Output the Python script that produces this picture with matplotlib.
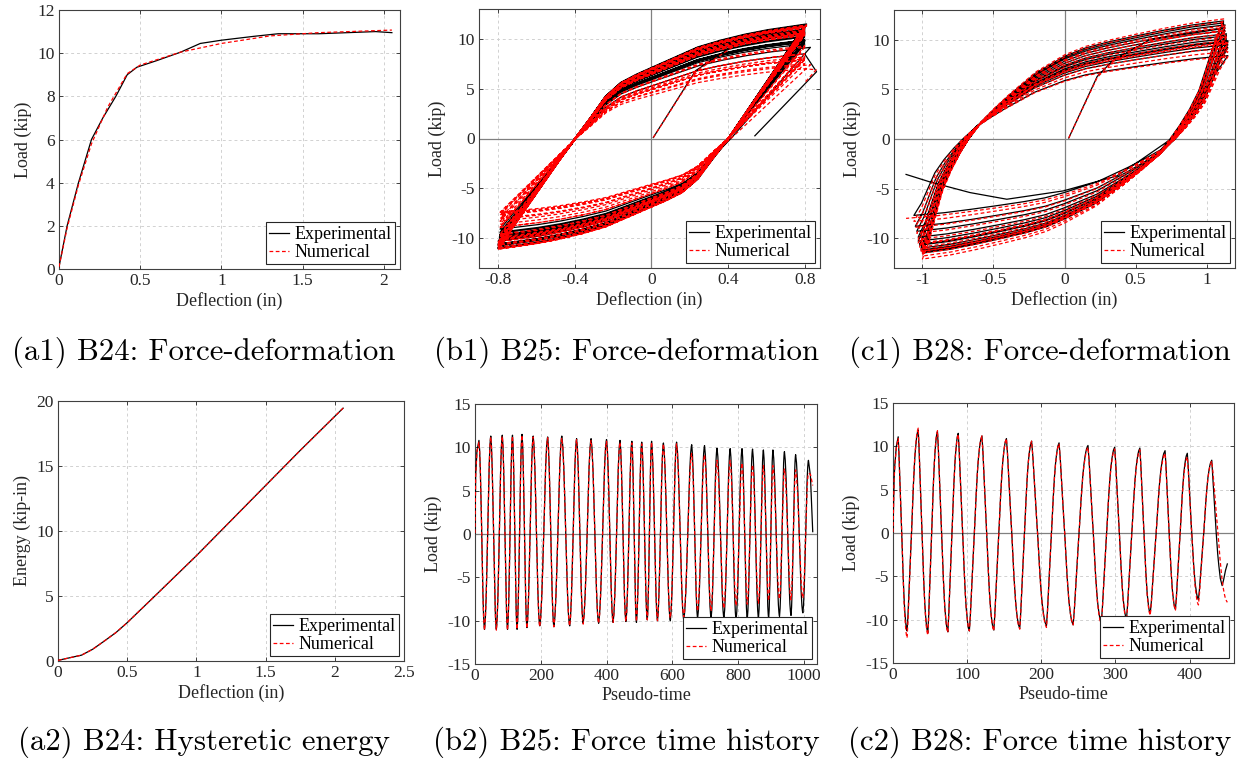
import numpy as np
import matplotlib
matplotlib.use('Agg')
import matplotlib.pyplot as plt
from matplotlib.ticker import FuncFormatter

plt.rcParams['font.family'] = ['Liberation Serif', 'DejaVu Serif']
plt.rcParams['axes.unicode_minus'] = False

# ---- B24 monotonic test ----
a1_exp_d = [0.0, 0.05, 0.12, 0.2, 0.27, 0.35, 0.42, 0.48, 0.6, 0.75, 0.87, 1.0, 1.2, 1.35, 1.6, 1.95, 2.05]
a1_exp_F = [0.1, 2.0, 4.0, 6.0, 7.0, 8.0, 9.0, 9.35, 9.65, 10.05, 10.45, 10.6, 10.78, 10.9, 10.9, 11.0, 10.95]
a1_num_d = [0.0, 0.05, 0.12, 0.2, 0.3, 0.42, 0.5, 0.75, 1.0, 1.3, 1.6, 2.05]
a1_num_F = [0.1, 1.9, 3.9, 5.8, 7.5, 9.05, 9.45, 10.05, 10.45, 10.8, 10.95, 11.07]

a2_d = [0.0, 0.17, 0.25, 0.33, 0.42, 0.5, 0.7, 1.0, 1.25, 1.5, 1.75, 2.06]
a2_exp_E = [0.05, 0.45, 0.9, 1.5, 2.2, 2.95, 5.0, 8.1, 10.8, 13.5, 16.2, 19.45]
a2_num_E = [0.05, 0.45, 0.9, 1.5, 2.2, 2.95, 5.0, 8.1, 10.8, 13.5, 16.2, 19.45]

# ---- B25 cyclic test: peaks / troughs of each cycle ----
b_peak_t = [12, 48, 83, 114, 143, 177, 221, 264, 309, 353, 400, 441, 477, 507,
            537, 573, 613, 659, 698, 736, 776, 812, 844, 877, 906, 941, 975, 1014]
b_peak_d = [0.80, 0.80, 0.80, 0.81, 0.81, 0.80, 0.80, 0.80, 0.80, 0.80, 0.80, 0.80, 0.80, 0.80,
            0.80, 0.80, 0.80, 0.80, 0.80, 0.80, 0.80, 0.80, 0.80, 0.80, 0.80, 0.80, 0.83, 0.80]
b_peak_exp = [10.8, 11.3, 11.4, 11.4, 11.5, 11.3, 11.2, 11.3, 11.0, 11.0, 10.9, 10.8, 10.7, 10.6,
              10.7, 10.5, 10.6, 10.3, 10.2, 9.9, 9.85, 9.85, 9.8, 9.7, 9.7, 9.5, 9.15, 8.5]
b_peak_num = [10.6, 11.2, 11.3, 11.3, 11.4, 11.2, 11.1, 11.1, 10.9, 10.8, 10.7, 10.6, 10.5, 10.4,
              10.6, 10.4, 10.4, 9.3, 9.15, 8.5, 8.5, 8.2, 8.0, 7.9, 7.9, 7.5, 7.4, 7.0]
b_trough_t = [29, 65, 99, 128, 158, 197, 240, 288, 329, 376, 420, 459, 491, 524,
              555, 594, 635, 677, 718, 757, 794, 828, 862, 893, 926, 961, 997]
b_trough_d = [-0.80, -0.80, -0.80, -0.80, -0.80, -0.80, -0.80, -0.80, -0.80, -0.79, -0.79, -0.79, -0.79, -0.79,
              -0.79, -0.79, -0.79, -0.79, -0.79, -0.79, -0.79, -0.79, -0.79, -0.79, -0.79, -0.79, -0.79]
b_trough_exp = [-11.0, -11.0, -11.0, -11.0, -10.8, -10.6, -10.7, -10.6, -10.3, -10.3, -10.2, -10.1, -10.2, -9.9,
                -10.0, -10.0, -9.9, -9.7, -9.7, -9.7, -9.9, -9.8, -9.7, -9.7, -9.5, -9.4, -9.1]
b_trough_num = [-11.1, -11.1, -11.1, -11.0, -10.9, -10.7, -10.7, -10.6, -10.4, -10.3, -10.2, -10.1, -10.1, -9.9,
                -10.0, -9.7, -9.6, -8.9, -8.9, -8.6, -8.3, -8.1, -8.0, -7.7, -7.5, -7.6, -7.4]
# first loading and final unloading
b_init_t = [0, 2, 6]
b_init_d = [0.01, 0.23, 0.45]
b_init_exp = [0.1, 6.8, 9.6]
b_init_num = [0.1, 6.7, 9.5]
b_tail_t = [1020, 1027]
b_tail_d_exp = [0.862, 0.54]
b_tail_exp = [6.7, 0.27]
b_tail_d_num = [0.86, 0.80]
b_tail_num = [6.9, 5.6]
# branch shape: normalised deflection, normalised load, fraction of half-cycle time
b_shape = ([-1.0, -0.95, -0.9, -0.84, -0.77, -0.7, -0.62, -0.55, -0.5, -0.4, -0.3,
            -0.2, -0.1, 0.0, 0.15, 0.3, 0.45, 0.6, 0.75, 0.9, 1.0],
           [-1.0, -0.9, -0.8, -0.68, -0.54, -0.4, -0.24, -0.1, 0.0, 0.18, 0.37,
            0.49, 0.56, 0.62, 0.71, 0.8, 0.86, 0.91, 0.95, 0.98, 1.0],
           [0.0, 0.12, 0.18, 0.25, 0.31, 0.36, 0.42, 0.47, 0.5, 0.56, 0.62,
            0.66, 0.69, 0.71, 0.75, 0.8, 0.83, 0.87, 0.91, 0.95, 1.0])

# ---- B28 cyclic test ----
c_peak_t = [7, 34, 60, 88, 120, 153, 187, 224, 263, 299, 333, 367, 397, 430]
c_peak_d = [1.10, 1.12, 1.12, 1.13, 1.13, 1.13, 1.14, 1.14, 1.14, 1.15, 1.15, 1.15, 1.15, 1.15]
c_peak_exp = [11.1, 11.9, 11.7, 11.5, 11.2, 10.9, 10.6, 10.4, 10.1, 9.9, 9.8, 9.5, 9.2, 8.4]
c_peak_num = [10.9, 12.1, 11.8, 11.4, 11.2, 10.9, 10.6, 10.3, 9.9, 9.7, 9.6, 9.2, 8.8, 8.3]
c_trough_t = [19, 47, 74, 103, 136, 171, 207, 243, 281, 315, 347, 381, 412, 451]
c_trough_d = [-1.0, -1.0, -1.0, -1.0, -1.01, -1.01, -1.02, -1.02, -1.03, -1.03, -1.04, -1.05, -1.06, -1.115]
c_trough_exp = [-11.3, -11.5, -11.4, -11.3, -11.2, -11.0, -10.7, -10.6, -10.3, -9.9, -9.3, -8.8, -7.7]
c_trough_num = [-12.1, -11.8, -11.5, -11.3, -11.3, -11.1, -10.9, -10.6, -10.5, -10.1, -9.5, -8.9, -8.3, -8.0]
c_init_t = [0, 1.5, 2.5, 4.5]
c_init_d = [0.03, 0.23, 0.34, 0.6]
c_init_exp = [0.1, 6.3, 7.9, 10.0]
c_init_num = [0.1, 6.2, 7.8, 9.9]
c_tail_t = [436, 438, 439.5, 441.5, 444, 446, 448.5, 451]
c_tail_d = [0.75, 0.508, 0.367, -0.008, -0.406, -0.665, -0.946, -1.115]
c_tail_exp = [0.0, -2.4, -3.73, -5.23, -6.07, -5.4, -4.33, -3.57]
c_shape = ([-1.0, -0.95, -0.91, -0.86, -0.8, -0.735, -0.675, -0.59, -0.49, -0.39,
            -0.29, -0.2, -0.1, 0.0, 0.13, 0.27, 0.44, 0.62, 0.8, 1.0],
           [-1.0, -0.84, -0.66, -0.44, -0.27, -0.12, 0.0, 0.14, 0.26, 0.37,
            0.47, 0.56, 0.63, 0.70, 0.77, 0.82, 0.87, 0.92, 0.965, 1.0],
           [0.0, 0.08, 0.15, 0.23, 0.29, 0.35, 0.4, 0.45, 0.49, 0.53,
            0.57, 0.61, 0.64, 0.68, 0.72, 0.76, 0.8, 0.85, 0.91, 1.0])


def interleave(a, b):
    out = []
    for i, x in enumerate(a):
        out.append(x)
        if i < len(b):
            out.append(b[i])
    return out


def cyclic_path(t_ext, d_ext, f_ext, shape):
    """Join successive extremes with the loading/unloading branch shape."""
    s, r, tau = (np.asarray(v, dtype=float) for v in shape)
    T, D, F = [t_ext[0]], [d_ext[0]], [f_ext[0]]
    for k in range(len(t_ext) - 1):
        t0, t1 = t_ext[k], t_ext[k + 1]
        d0, d1 = d_ext[k], d_ext[k + 1]
        f0, f1 = f_ext[k], f_ext[k + 1]
        sign = 1 if d1 > d0 else -1
        ss, rr = sign * s, sign * r
        dpos, dneg = max(d0, d1), -min(d0, d1)
        fpos, fneg = max(f0, f1), -min(f0, f1)
        D += list(np.where(ss > 0, ss * dpos, ss * dneg)[1:])
        F += list(np.where(rr > 0, rr * fpos, rr * fneg)[1:])
        T += list((t0 + tau * (t1 - t0))[1:])
    return T, D, F


def history(init, ext, tail, shape):
    T, D, F = cyclic_path(*ext, shape)
    return (np.array(init[0] + T + tail[0]),
            np.array(init[1] + D + tail[1]),
            np.array(init[2] + F + tail[2]))


b_exp = history((b_init_t, b_init_d, b_init_exp),
                (interleave(b_peak_t, b_trough_t), interleave(b_peak_d, b_trough_d),
                 interleave(b_peak_exp, b_trough_exp)),
                (b_tail_t, b_tail_d_exp, b_tail_exp), b_shape)
b_num = history((b_init_t, b_init_d, b_init_num),
                (interleave(b_peak_t, b_trough_t), interleave(b_peak_d, b_trough_d),
                 interleave(b_peak_num, b_trough_num)),
                (b_tail_t, b_tail_d_num, b_tail_num), b_shape)
c_exp = history((c_init_t, c_init_d, c_init_exp),
                (interleave(c_peak_t, c_trough_t[:-1]), interleave(c_peak_d, c_trough_d[:-1]),
                 interleave(c_peak_exp, c_trough_exp)),
                (c_tail_t, c_tail_d, c_tail_exp), c_shape)
c_num = history((c_init_t, c_init_d, c_init_num),
                (interleave(c_peak_t, c_trough_t), interleave(c_peak_d, c_trough_d),
                 interleave(c_peak_num, c_trough_num)),
                ([], [], []), c_shape)

W, H = 1238, 766
fig = plt.figure(figsize=(W / 100, H / 100), dpi=100)


def make_axes(left, right, top, bottom):
    return fig.add_axes([left / W, 1 - bottom / H, (right - left) / W, (bottom - top) / H])


fmt = FuncFormatter(lambda v, p: '%g' % v)


def style(ax, xlim, ylim, xticks, yticks, xlabel, ylabel, zero_x=False, zero_y=False):
    ax.set_xlim(xlim)
    ax.set_ylim(ylim)
    ax.set_xticks(xticks)
    ax.set_yticks(yticks)
    ax.xaxis.set_major_formatter(fmt)
    ax.yaxis.set_major_formatter(fmt)
    ax.grid(True, color='0.82', linestyle=(0, (3, 3)), linewidth=0.7)
    ax.set_axisbelow(True)
    ax.tick_params(direction='in', top=True, right=True, length=3, width=0.6,
                   labelsize=12.5, colors='0.15', pad=3)
    for sp in ax.spines.values():
        sp.set_linewidth(0.8)
        sp.set_color('0.25')
    ax.set_xlabel(xlabel, fontsize=13, color='0.15', labelpad=2)
    ax.set_ylabel(ylabel, fontsize=13, color='0.15', labelpad=4)
    if zero_y:
        ax.axhline(0, color='0.5', linewidth=0.9, zorder=1)
    if zero_x:
        ax.axvline(0, color='0.5', linewidth=0.9, zorder=1)


def curves(ax, x1, y1, x2, y2):
    ax.plot(x1, y1, color='black', linewidth=0.9, label='Experimental', zorder=3)
    ax.plot(x2, y2, color='red', linewidth=0.9, linestyle=(0, (3, 2)), label='Numerical', zorder=4)
    leg = ax.legend(loc='lower right', fontsize=13, fancybox=False, framealpha=1,
                    edgecolor='0.15', borderpad=0.2, labelspacing=0.05,
                    handlelength=1.1, handletextpad=0.3, borderaxespad=0.25)
    leg.get_frame().set_linewidth(0.8)


ax = make_axes(59, 400, 10, 269)
curves(ax, a1_exp_d, a1_exp_F, a1_num_d, a1_num_F)
style(ax, (0, 2.1), (0, 12), [0, 0.5, 1, 1.5, 2], range(0, 13, 2), 'Deflection (in)', 'Load (kip)')

ax = make_axes(479, 820, 9, 268)
curves(ax, b_exp[1], b_exp[2], b_num[1], b_num[2])
style(ax, (-0.9, 0.88), (-13, 13), [-0.8, -0.4, 0, 0.4, 0.8], [-10, -5, 0, 5, 10],
      'Deflection (in)', 'Load (kip)', zero_x=True, zero_y=True)

ax = make_axes(894, 1235, 10, 268)
curves(ax, c_exp[1], c_exp[2], c_num[1], c_num[2])
style(ax, (-1.2, 1.2), (-13, 13), [-1, -0.5, 0, 0.5, 1], [-10, -5, 0, 5, 10],
      'Deflection (in)', 'Load (kip)', zero_x=True, zero_y=True)

ax = make_axes(58, 404, 401, 661)
curves(ax, a2_d, a2_exp_E, a2_d, a2_num_E)
style(ax, (0, 2.5), (0, 20), [0, 0.5, 1, 1.5, 2, 2.5], [0, 5, 10, 15, 20],
      'Deflection (in)', 'Energy (kip-in)')

ax = make_axes(475, 817, 404, 664)
curves(ax, b_exp[0], b_exp[2], b_num[0], b_num[2])
style(ax, (0, 1040), (-15, 15), range(0, 1001, 200), range(-15, 16, 5),
      'Pseudo-time', 'Load (kip)', zero_y=True)

ax = make_axes(893, 1234, 403, 663)
curves(ax, c_exp[0], c_exp[2], c_num[0], c_num[2])
style(ax, (0, 460), (-15, 15), range(0, 401, 100), range(-15, 16, 5),
      'Pseudo-time', 'Load (kip)', zero_y=True)

captions = [('(a1) B24: Force-deformation', 204, 352),
            ('(b1) B25: Force-deformation', 626, 352),
            ('(c1) B28: Force-deformation', 1040, 352),
            ('(a2) B24: Hysteretic energy', 204, 742),
            ('(b2) B25: Force time history', 626, 742),
            ('(c2) B28: Force time history', 1040, 742)]
for text, x, y in captions:
    fig.text(x / W, 1 - y / H, text, family='cmr10', fontsize=22.2, ha='center', va='center')

fig.savefig('out.png', dpi=100)
